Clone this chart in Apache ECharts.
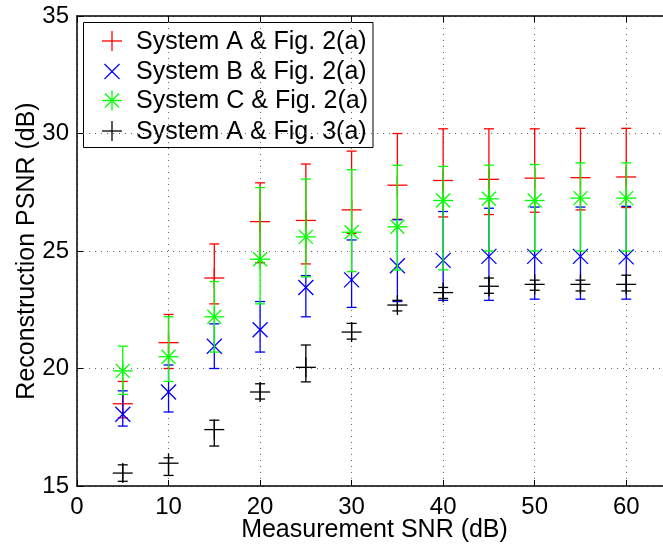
<!DOCTYPE html>
<html>
<head>
<meta charset="utf-8">
<script src="https://cdn.jsdelivr.net/npm/echarts@6/dist/echarts.min.js"></script>
<style>
html,body{margin:0;padding:0;background:#fff;}
#chart{width:663px;height:546px;}
</style>
</head>
<body>
<div id="chart"></div>
<script>
// ---- data ----
const snr = [5, 10, 15, 20, 25, 30, 35, 40, 45, 50, 55, 60];
const xTicks = [0, 10, 20, 30, 40, 50, 60];
const yTicks = [15, 20, 25, 30, 35];

const seriesNames = ['System A & Fig. 2(a)', 'System B & Fig. 2(a)', 'System C & Fig. 2(a)', 'System A & Fig. 3(a)'];

const aMean = [18.5, 21.1, 23.85, 26.25, 26.3, 26.75, 27.8, 28.0, 28.05, 28.1, 28.12, 28.15];
const aLow  = [17.9, 20.0, 22.75, 24.5, 24.45, 25.75, 26.35, 26.45, 26.55, 26.65, 26.75, 26.85];
const aHigh = [19.45, 22.3, 25.3, 27.9, 28.7, 29.25, 30.0, 30.2, 30.2, 30.2, 30.22, 30.22];

const bMean = [18.05, 19.0, 20.95, 21.65, 23.45, 23.77, 24.37, 24.6, 24.77, 24.77, 24.77, 24.75];
const bLow  = [17.55, 18.15, 20.0, 20.7, 22.2, 22.6, 22.85, 22.9, 22.9, 22.95, 22.95, 22.95];
const bHigh = [19.05, 20.15, 21.9, 22.85, 23.95, 25.47, 26.33, 26.68, 26.82, 26.87, 26.87, 26.9];

const cMean = [19.9, 20.5, 22.2, 24.65, 25.6, 25.8, 26.03, 27.15, 27.22, 27.15, 27.25, 27.25];
const cLow  = [18.9, 19.45, 20.7, 22.75, 23.9, 24.12, 24.19, 24.2, 25.0, 25.0, 25.0, 25.0];
const cHigh = [20.95, 22.2, 23.7, 27.7, 28.06, 28.46, 28.65, 28.6, 28.65, 28.68, 28.75, 28.75];

const dMean = [15.55, 15.97, 17.4, 19.0, 20.05, 21.55, 22.7, 23.23, 23.5, 23.58, 23.58, 23.58];
const dLow  = [15.2, 15.45, 16.7, 18.7, 19.43, 21.25, 22.45, 22.98, 23.2, 23.33, 23.3, 23.3];
const dHigh = [15.9, 16.2, 17.8, 19.35, 21.0, 21.92, 22.9, 23.45, 23.85, 23.76, 23.76, 23.97];

// ---- styles ----
const colors = ['#ff0000', '#0000ff', '#00ff00', '#000000'];
const markers = ['plus', 'cross', 'star', 'plus'];
const FONT = 'Liberation Sans, Arial, Helvetica, sans-serif';
const LW = 1.3;

function markerShapes(kind, cx, cy, color) {
  const st = {stroke: color, lineWidth: LW, fill: null};
  const out = [];
  const line = (x1, y1, x2, y2) => out.push({type: 'line', shape: {x1, y1, x2, y2}, style: st});
  if (kind === 'plus' || kind === 'star') {
    const r = 10;
    line(cx - r, cy, cx + r, cy);
    line(cx, cy - r, cx, cy + r);
  }
  if (kind === 'cross' || kind === 'star') {
    const r = kind === 'star' ? 7 : 7.5;
    line(cx - r, cy - r, cx + r, cy + r);
    line(cx - r, cy + r, cx + r, cy - r);
  }
  return out;
}

function makeRender(color, kind) {
  return function (params, api) {
    const x = api.value(0);
    const c = api.coord([x, api.value(1)]);
    const lo = api.coord([x, api.value(2)]);
    const hi = api.coord([x, api.value(3)]);
    const w = 5;
    const st = {stroke: color, lineWidth: LW};
    const ch = [
      {type: 'line', shape: {x1: lo[0], y1: lo[1], x2: hi[0], y2: hi[1]}, style: st},
      {type: 'line', shape: {x1: lo[0] - w, y1: lo[1], x2: lo[0] + w, y2: lo[1]}, style: st},
      {type: 'line', shape: {x1: hi[0] - w, y1: hi[1], x2: hi[0] + w, y2: hi[1]}, style: st}
    ].concat(markerShapes(kind, c[0], c[1], color));
    return {type: 'group', children: ch};
  };
}

const allMeans = [aMean, bMean, cMean, dMean];
const allLows = [aLow, bLow, cLow, dLow];
const allHighs = [aHigh, bHigh, cHigh, dHigh];

const series = seriesNames.map((name, k) => ({
  type: 'custom',
  name: name,
  xAxisIndex: 0,
  yAxisIndex: 0,
  renderItem: makeRender(colors[k], markers[k]),
  encode: {x: 0, y: [1, 2, 3]},
  data: snr.map((x, i) => [x, allMeans[k][i], allLows[k][i], allHighs[k][i]]),
  clip: false,
  z: 10 + k,
  silent: true
}));

// ---- legend drawn as graphic ----
const legX = 83.5, legY = 22.5, legW = 289.5, legH = 125;
const rowY = [41, 71.5, 100.5, 131];
const legChildren = [
  {type: 'rect', shape: {x: legX, y: legY, width: legW, height: legH}, style: {fill: '#fff', stroke: '#000', lineWidth: 1}}
];
seriesNames.forEach((name, k) => {
  markerShapes(markers[k], 112, rowY[k], colors[k]).forEach(s => legChildren.push(s));
  legChildren.push({type: 'text', x: 136, y: rowY[k] + 1, style: {text: name, fill: '#000', font: '25px ' + FONT, verticalAlign: 'middle', align: 'left'}});
});

const axisCommon = {
  axisLine: {show: true, onZero: false, lineStyle: {color: '#000', width: 1.5}},
  axisTick: {show: true, inside: true, length: 6, lineStyle: {color: '#000', width: 1}},
  splitLine: {show: true, lineStyle: {color: '#666', type: [1, 5], width: 1}}
};

const option = {
  animation: false,
  backgroundColor: '#fff',
  grid: {left: 77, top: 16, width: 595, height: 470, show: false, containLabel: false, outerBoundsMode: 'none'},
  xAxis: [
    Object.assign({}, axisCommon, {
      type: 'value', min: 0, max: 65, interval: 10, position: 'bottom',
      name: 'Measurement SNR (dB)', nameLocation: 'middle', nameGap: 44, nameMoveOverlap: false,
      nameTextStyle: {fontSize: 25, fontFamily: FONT, color: '#000', verticalAlign: 'middle', padding: 0, lineHeight: 25},
      axisLabel: {fontSize: 24, fontFamily: FONT, color: '#000', margin: 9,
        formatter: v => (xTicks.indexOf(v) >= 0 ? String(v) : '')}
    }),
    {
      type: 'value', min: 0, max: 65, interval: 10, position: 'top',
      axisLine: {show: true, onZero: false, lineStyle: {color: '#000', width: 1.5}},
      axisTick: {show: true, inside: true, length: 6, lineStyle: {color: '#000', width: 1}},
      axisLabel: {show: false}, splitLine: {show: false}
    }
  ],
  yAxis: [
    Object.assign({}, axisCommon, {
      type: 'value', min: 15, max: 35, interval: 5,
      name: 'Reconstruction PSNR (dB)', nameLocation: 'middle', nameGap: 50, nameRotate: 90, nameMoveOverlap: false,
      nameTextStyle: {fontSize: 25, fontFamily: FONT, color: '#000', verticalAlign: 'middle', padding: 0, lineHeight: 25},
      axisLabel: {fontSize: 24, fontFamily: FONT, color: '#000', margin: 8,
        formatter: v => (yTicks.indexOf(v) >= 0 ? String(v) : '')}
    })
  ],
  series: series,
  graphic: [{type: 'group', x: 0, y: 0, z: 100, children: legChildren}]
};

const chart = echarts.init(document.getElementById('chart'), null, {renderer: 'canvas'});
chart.setOption(option);
</script>
</body>
</html>
